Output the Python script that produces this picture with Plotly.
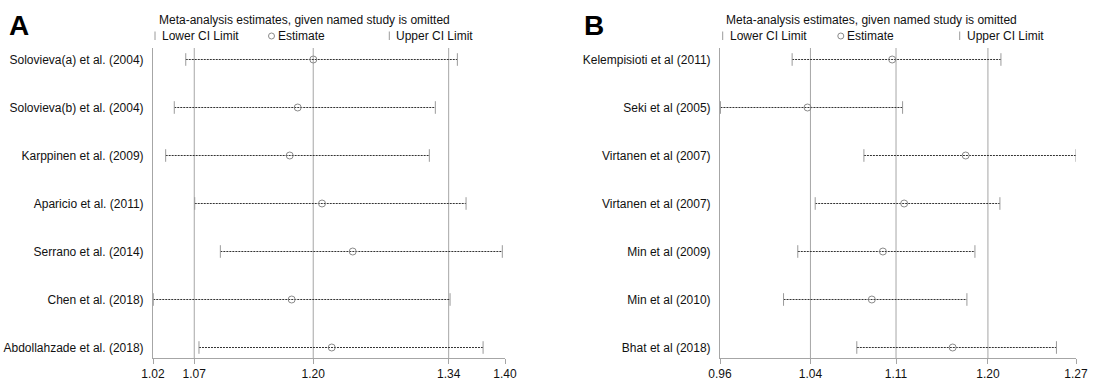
import plotly.graph_objects as go

W, H = 1094, 380

# Panel A: leave-one-out estimates
studies_a = ["Solovieva(a) et al. (2004)", "Solovieva(b) et al. (2004)", "Karppinen et al. (2009)",
             "Aparicio et al. (2011)", "Serrano et al. (2014)", "Chen et al. (2018)",
             "Abdollahzade et al. (2018)"]
est_a = [1.1963, 1.1794, 1.1708, 1.2057, 1.2389, 1.1729, 1.2162]
lo_a = [1.0584, 1.0460, 1.0367, 1.0681, 1.0958, 1.0233, 1.0727]
hi_a = [1.3520, 1.3282, 1.3217, 1.3614, 1.4006, 1.3441, 1.3798]
overall_a = [1.0676, 1.1962, 1.3426]          # lower CI, estimate, upper CI
ticks_a = [1.023, 1.0676, 1.1962, 1.3426, 1.4035]
ticktext_a = ["1.02", "1.07", "1.20", "1.34", "1.40"]

# Panel B: leave-one-out estimates
studies_b = ["Kelempisioti et al (2011)", "Seki et al (2005)", "Virtanen et al (2007)",
             "Virtanen et al (2007)", "Min et al (2009)", "Min et al (2010)", "Bhat et al (2018)"]
est_b = [1.1107, 1.0358, 1.1757, 1.1213, 1.1025, 1.0927, 1.1642]
lo_b = [1.0222, 0.9588, 1.0857, 1.0426, 1.0272, 1.0146, 1.0794]
hi_b = [1.2069, 1.1199, 1.2733, 1.2060, 1.1839, 1.1768, 1.2560]
overall_b = [1.0384, 1.1141, 1.1954]
ticks_b = [0.9584, 1.0384, 1.1141, 1.1954, 1.2733]
ticktext_b = ["0.96", "1.04", "1.11", "1.20", "1.27"]

FONT = "Liberation Sans, Arial, sans-serif"
GRID = "#a6a6a6"
CAP = "#9a9a9a"
DOT = "#333333"
CIRC = "#8a8a8a"


def px(x):
    return x / W


def py(y):
    return 1 - y / H


fig = go.Figure()

panels = [
    (studies_a, est_a, lo_a, hi_a, overall_a, "x", "y"),
    (studies_b, est_b, lo_b, hi_b, overall_b, "x2", "y2"),
]

shapes = []
annotations = []
for studies, est, lo, hi, overall, xa, ya in panels:
    rows = list(range(1, len(studies) + 1))
    # dotted CI lines
    xs, ys = [], []
    for r, l, h in zip(rows, lo, hi):
        xs += [l, h, None]
        ys += [r, r, None]
    fig.add_trace(go.Scatter(x=xs, y=ys, mode="lines", xaxis=xa, yaxis=ya,
                             line=dict(color=DOT, width=1, dash="2px,1px"),
                             hoverinfo="skip", showlegend=False))
    # CI end caps
    fig.add_trace(go.Scatter(x=lo + hi, y=rows + rows, mode="markers", xaxis=xa, yaxis=ya,
                             marker=dict(symbol="line-ns", size=9,
                                         line=dict(color=CAP, width=1)),
                             showlegend=False))
    # point estimates
    fig.add_trace(go.Scatter(x=est, y=rows, mode="markers", xaxis=xa, yaxis=ya,
                             marker=dict(symbol="circle-open", size=7,
                                         line=dict(color=CIRC, width=1), color=CIRC),
                             showlegend=False))
    # reference lines at the pooled estimate and its CI
    for v in overall:
        shapes.append(dict(type="line", xref=xa, yref=ya + " domain", x0=v, x1=v, y0=0, y1=1,
                           line=dict(color=GRID, width=1), layer="below"))

# plot area 48..358 px, rows 48 px apart
y_dom = [py(358), py(48)]
yr = [7.21875, 0.76042]

axis_common = dict(showgrid=False, zeroline=False, showline=True, linecolor=GRID, linewidth=1,
                   ticks="outside", ticklen=5, tickcolor=GRID, automargin=False,
                   tickfont=dict(family=FONT, size=12, color="#111"))
yaxis_common = dict(showgrid=False, zeroline=False, showline=True, linecolor=GRID, linewidth=1,
                    ticks="outside", ticklen=0, ticklabelstandoff=6, automargin=False,
                    tickmode="array", tickvals=list(range(1, 8)),
                    tickfont=dict(family=FONT, size=12, color="#111"))

fig.update_layout(
    width=W, height=H,
    margin=dict(l=0, r=0, t=0, b=0, pad=0, autoexpand=False),
    paper_bgcolor="white", plot_bgcolor="white",
    font=dict(family=FONT, size=12, color="#111"),
    xaxis=dict(domain=[px(153), px(505)], range=[ticks_a[0], ticks_a[-1]], anchor="y",
               tickmode="array", tickvals=ticks_a, ticktext=ticktext_a, **axis_common),
    yaxis=dict(domain=y_dom, range=yr, anchor="x", ticktext=studies_a, **yaxis_common),
    xaxis2=dict(domain=[px(720), px(1076)], range=[ticks_b[0], ticks_b[-1]], anchor="y2",
                tickmode="array", tickvals=ticks_b, ticktext=ticktext_b, **axis_common),
    yaxis2=dict(domain=y_dom, range=yr, anchor="x2", ticktext=studies_b, **yaxis_common),
)

# headers and legend keys
for letter, lx, tx, bar1, circ, bar2 in [("A", 19, 156.7, 155, 271.5, 389.3),
                                        ("B", 594, 723.7, 722.7, 840.8, 959.7)]:
    annotations.append(dict(text=f"<b>{letter}</b>", x=px(lx), y=py(26), xref="paper", yref="paper",
                            xanchor="center", yanchor="middle", showarrow=False,
                            font=dict(family=FONT, size=28, color="#000")))
    annotations.append(dict(text="Meta-analysis estimates, given named study is omitted",
                            x=px(tx), y=py(20), xref="paper", yref="paper",
                            xanchor="left", yanchor="middle", showarrow=False,
                            font=dict(family=FONT, size=12, color="#111")))
    for label, bx in [("Lower CI Limit", bar1), ("Upper CI Limit", bar2)]:
        shapes.append(dict(type="line", xref="paper", yref="paper", x0=px(bx), x1=px(bx),
                           y0=py(40), y1=py(31.5), line=dict(color=CAP, width=1)))
        annotations.append(dict(text=label, x=px(bx + 5), y=py(36), xref="paper", yref="paper",
                                xanchor="left", yanchor="middle", showarrow=False,
                                font=dict(family=FONT, size=12, color="#111")))
    shapes.append(dict(type="circle", xref="paper", yref="paper",
                       x0=px(circ - 3), x1=px(circ + 3), y0=py(39), y1=py(33),
                       line=dict(color=CIRC, width=1)))
    annotations.append(dict(text="Estimate", x=px(circ + 4.5), y=py(36), xref="paper", yref="paper",
                            xanchor="left", yanchor="middle", showarrow=False,
                            font=dict(family=FONT, size=12, color="#111")))

fig.update_layout(shapes=shapes, annotations=annotations)
fig.write_html("out.html")
